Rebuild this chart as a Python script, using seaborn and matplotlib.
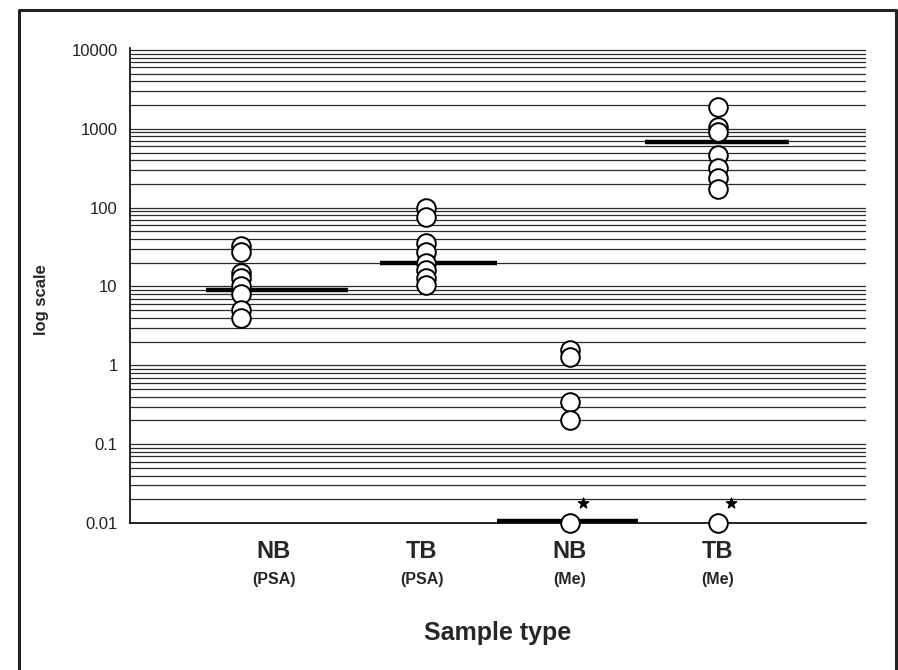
import matplotlib
matplotlib.use("Agg")
import matplotlib.pyplot as plt
import numpy as np
import pandas as pd
import seaborn as sns
from matplotlib.ticker import LogLocator, FixedLocator, FuncFormatter

# values
groups = ["NB", "TB", "NB", "TB"]
methods = ["(PSA)", "(PSA)", "(Me)", "(Me)"]
nb_psa = [33, 27, 15, 13, 10, 8, 5, 4]
tb_psa = [100, 77, 36, 27, 20, 16, 13, 10.5]
nb_me = [1.55, 1.26, 0.34, 0.2, 0.01]
tb_me = [1900, 1050, 900, 470, 320, 240, 170, 0.01]
means = [9, 20, 0.0105, 675]
star_groups = [2, 3]
star_value = 0.018

# layout (offsets in category units)
point_offset = [-0.22, 0.03, 0.0, 0.0]
bar_left = [-0.46, -0.28, -0.49, -0.49]
bar_right = [0.50, 0.51, 0.46, 0.48]

sns.set_style("white")
plt.rcParams['font.family'] = ['Liberation Sans', 'DejaVu Sans']

rows = []
for i, vals in enumerate([nb_psa, tb_psa, nb_me, tb_me]):
    for v in vals:
        rows.append({"pos": i + point_offset[i], "value": v})
df = pd.DataFrame(rows)

fig = plt.figure(figsize=(8.98, 6.70), dpi=100)
ax = fig.add_axes([0.1448, 0.2194, 0.8196, 0.709])

ax.set_yscale("log")
ax.set_ylim(0.01, 10600)
ax.set_xlim(-0.97, 4.0)

# log grid: every 1..9 x decade
ax.yaxis.set_major_locator(LogLocator(base=10, numticks=10))
ax.yaxis.set_minor_locator(LogLocator(base=10, subs=np.arange(2, 10), numticks=20))
ax.yaxis.grid(True, which="both", color="#2a2a2a", lw=0.9)
ax.set_axisbelow(True)

# mean bars
for i, m in enumerate(means):
    ax.hlines(m, i + bar_left[i], i + bar_right[i], color="black", lw=3.2,
              zorder=2, clip_on=False)

sns.scatterplot(data=df, x="pos", y="value", ax=ax, s=180, color="white",
                edgecolor="black", linewidth=1.4, zorder=3, clip_on=False,
                legend=False)

for g in star_groups:
    ax.scatter(g + 0.09, star_value, marker="*", s=60, color="black", zorder=4)

for s in ["top", "right"]:
    ax.spines[s].set_visible(False)
for s in ["left", "bottom"]:
    ax.spines[s].set_color("black")
    ax.spines[s].set_linewidth(1.2)

ax.yaxis.set_major_formatter(FuncFormatter(lambda v, p: "%g" % v))
ax.tick_params(axis="y", which="both", length=0, pad=9, labelsize=12,
               labelcolor="#222222")
ax.set_ylabel("log scale", fontsize=12, fontweight="bold")
ax.yaxis.set_label_coords(-0.11, 0.47)

ax.xaxis.set_major_locator(FixedLocator(range(len(groups))))
ax.set_xticklabels(groups, fontsize=17, fontweight="bold")
ax.tick_params(axis="x", length=0, pad=12)
for i, m in enumerate(methods):
    ax.text(i, -0.118, m, transform=ax.get_xaxis_transform(), ha="center",
            va="center", fontsize=11.5, fontweight="bold")
ax.set_xlabel("Sample type", fontsize=18, fontweight="bold", labelpad=42)

# frame around the figure (open at the bottom)
fig.add_artist(plt.Line2D([0.0212, 0.0212, 0.998, 0.998],
                          [0.0, 0.9858, 0.9858, 0.0],
                          transform=fig.transFigure, color="#222222", lw=2.2))

fig.savefig("out.png", dpi=100)
